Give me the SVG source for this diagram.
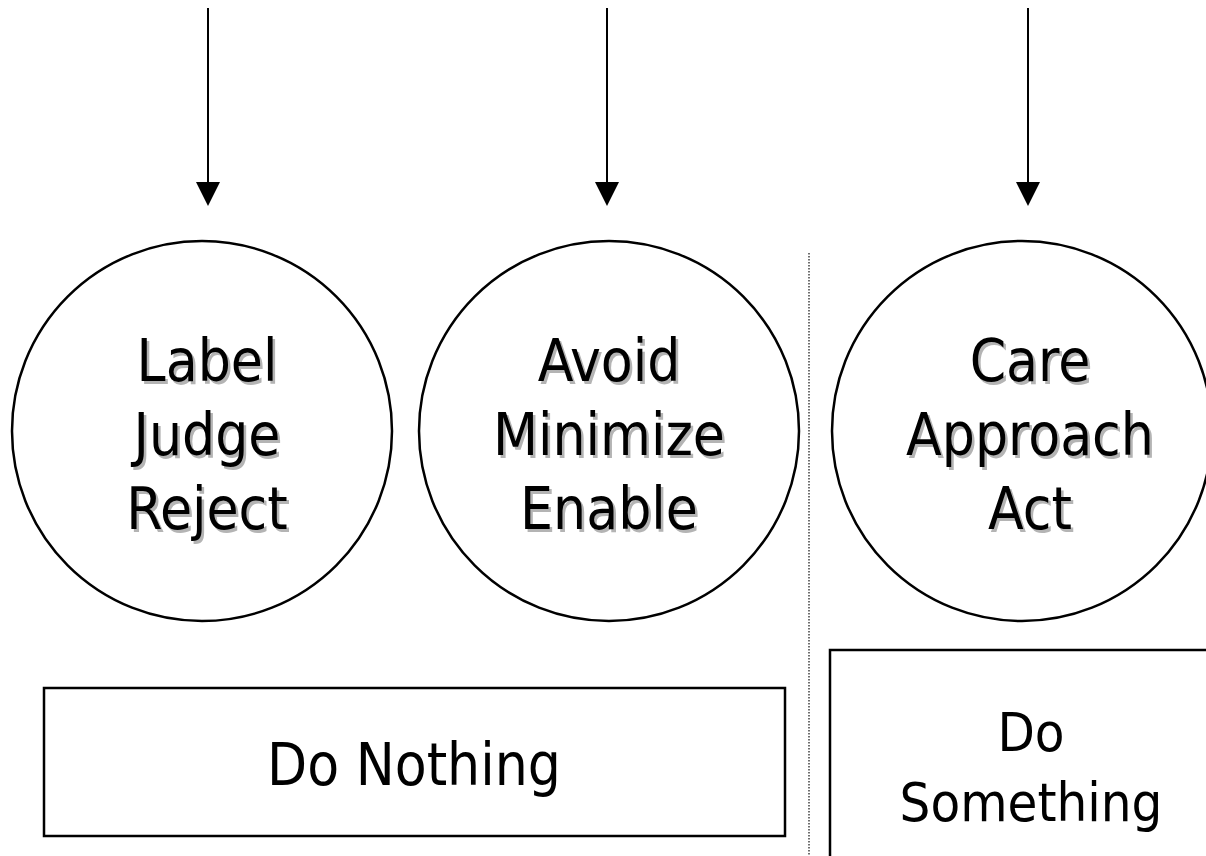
<svg xmlns="http://www.w3.org/2000/svg" width="1206" height="856" viewBox="0 0 1206 856">
<style>
.c{fill:none;stroke:#000;stroke-width:2.5}
.b{fill:#fff;stroke:#000;stroke-width:2.5}
.t{font-family:"DejaVu Sans Condensed","DejaVu Sans","Liberation Sans",sans-serif;font-size:58px;text-anchor:middle;fill:#000}
.s{fill:#b4b4b4}
.sm{font-size:54px}
.ln{stroke:#000;stroke-width:2;fill:none}
</style>
<rect width="1206" height="856" fill="#fff"/>
<g id="connectors">
<line class="ln" x1="208" y1="8" x2="208" y2="183"/>
<path d="M196,182 L220,182 L208,206 Z" fill="#000"/>
<line class="ln" x1="607" y1="8" x2="607" y2="183"/>
<path d="M595,182 L619,182 L607,206 Z" fill="#000"/>
<line class="ln" x1="1028" y1="8" x2="1028" y2="183"/>
<path d="M1016,182 L1040,182 L1028,206 Z" fill="#000"/>
<line x1="809" y1="253" x2="809" y2="856" stroke="#222" stroke-width="1.3" stroke-dasharray="1.5,1.5"/>
</g>
<g id="node-label">
<circle class="c" cx="202" cy="431" r="190"/>
<g class="t s" transform="translate(2.5,2.5)"><text x="207" y="381">Label</text><text x="207" y="455">Judge</text><text x="207" y="529">Reject</text></g>
<g class="t"><text x="207" y="381">Label</text><text x="207" y="455">Judge</text><text x="207" y="529">Reject</text></g>
</g>
<g id="node-avoid">
<circle class="c" cx="609" cy="431" r="190"/>
<g class="t s" transform="translate(2.5,2.5)"><text x="609" y="381">Avoid</text><text x="609" y="455">Minimize</text><text x="609" y="529">Enable</text></g>
<g class="t"><text x="609" y="381">Avoid</text><text x="609" y="455">Minimize</text><text x="609" y="529">Enable</text></g>
</g>
<g id="node-care">
<circle class="c" cx="1022" cy="431" r="190"/>
<g class="t s" transform="translate(2.5,2.5)"><text x="1030" y="381">Care</text><text x="1030" y="455">Approach</text><text x="1030" y="529">Act</text></g>
<g class="t"><text x="1030" y="381">Care</text><text x="1030" y="455">Approach</text><text x="1030" y="529">Act</text></g>
</g>
<g id="node-do-nothing">
<rect class="b" x="44" y="688" width="741" height="148"/>
<text class="t" x="414" y="785">Do Nothing</text>
</g>
<g id="node-do-something">
<rect class="b" x="830" y="650" width="390" height="230"/>
<text class="t sm" x="1031" y="751">Do</text>
<text class="t sm" x="1031" y="821">Something</text>
</g>
</svg>
